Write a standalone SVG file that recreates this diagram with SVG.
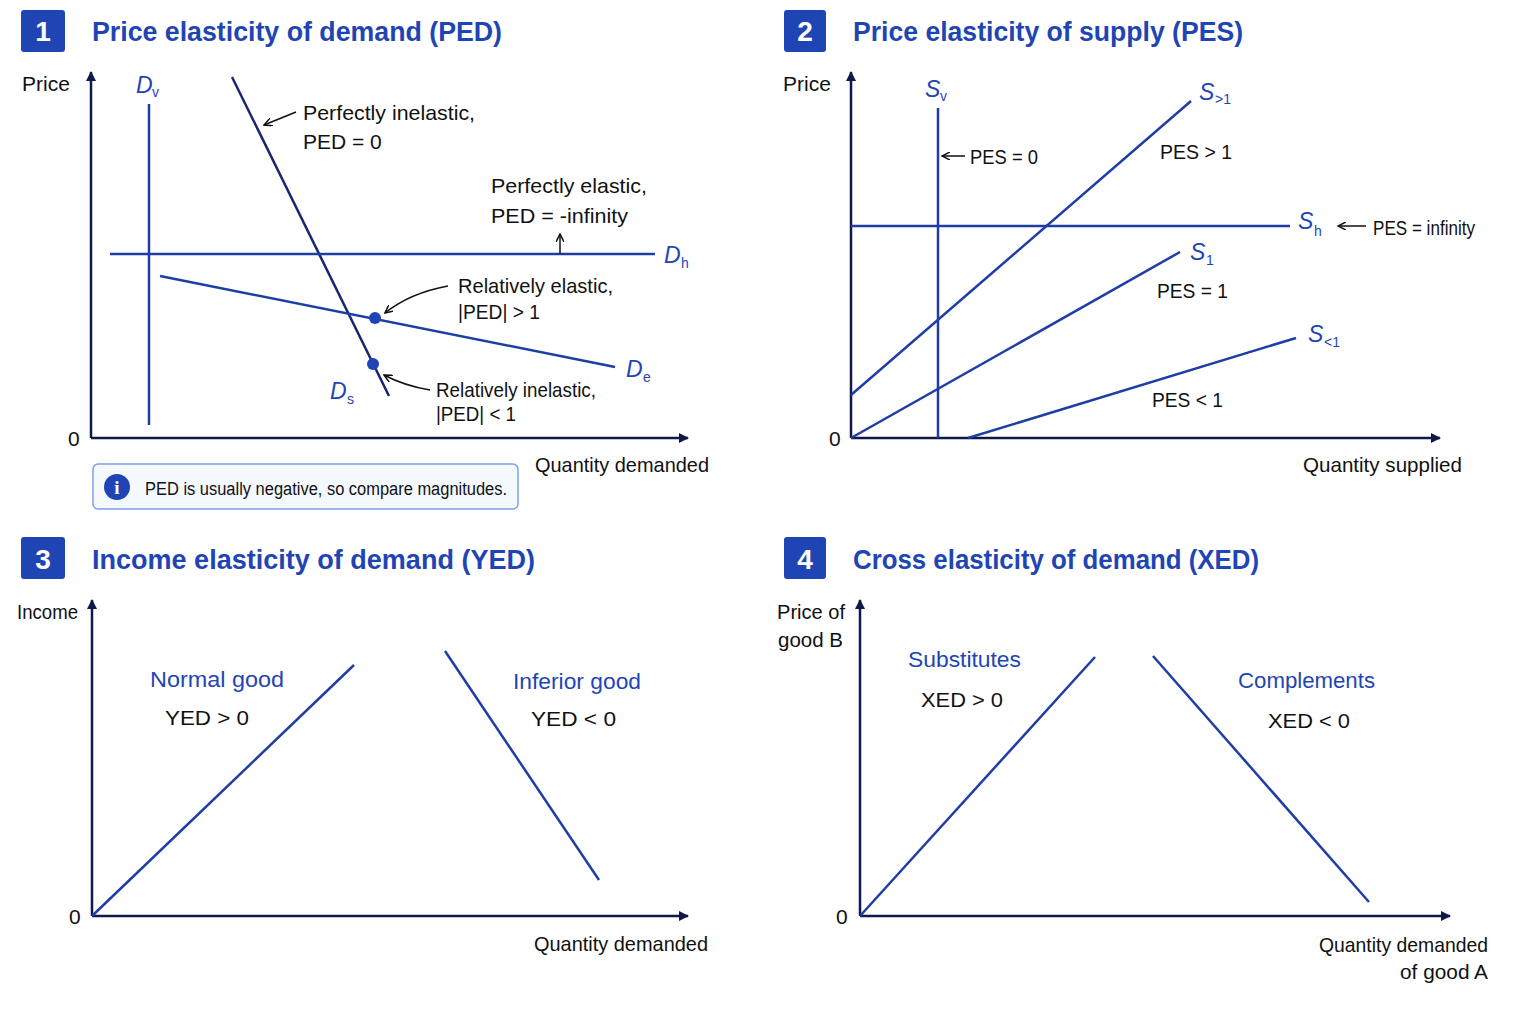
<svg xmlns="http://www.w3.org/2000/svg" width="1536" height="1024" viewBox="0 0 1536 1024">
<style>
text{font-family:"Liberation Sans",Arial,sans-serif}
.t{font-size:27px;font-weight:bold;fill:#1f45b5}
.num{font-size:28px;font-weight:bold;fill:#fff}
.lb{font-size:21px;fill:#111}
.bl{font-size:22px;fill:#1f45b5}
.it{font-size:23px;font-style:italic;fill:#1f45b5}
.sub{font-size:14px;fill:#1f45b5}
.ax{stroke:#0f1a4a;stroke-width:2.5;fill:none}
.ln{stroke:#1e3ea6;stroke-width:2.5;fill:none}
.dk{stroke:#1a2470;stroke-width:2.5;fill:none}
.an{stroke:#111;stroke-width:1.5;fill:none}
</style>
<defs>
<marker id="ah" markerWidth="10" markerHeight="10" refX="9" refY="5" orient="auto" markerUnits="userSpaceOnUse"><path d="M0,0 L10,5 L0,10 Z" fill="#0f1a4a"/></marker>
<marker id="sa" markerWidth="9" markerHeight="8" refX="8" refY="4" orient="auto" markerUnits="userSpaceOnUse"><path d="M0,0 L8,4 L0,8" fill="none" stroke="#111" stroke-width="1.5"/></marker>
</defs>
<rect width="1536" height="1024" fill="#fff"/>
<g id="title1"><rect x="21" y="10" width="44" height="42" rx="3" fill="#1f45b5"/><text class="num" x="43" y="41" text-anchor="middle">1</text><text class="t" x="92" y="41" textLength="410" lengthAdjust="spacingAndGlyphs">Price elasticity of demand (PED)</text></g>
<g id="title2"><rect x="784" y="10" width="42" height="42" rx="3" fill="#1f45b5"/><text class="num" x="805" y="41" text-anchor="middle">2</text><text class="t" x="853" y="41" textLength="390" lengthAdjust="spacingAndGlyphs">Price elasticity of supply (PES)</text></g>
<g id="title3"><rect x="21" y="537" width="44" height="42" rx="3" fill="#1f45b5"/><text class="num" x="43" y="569" text-anchor="middle">3</text><text class="t" x="92" y="569" textLength="443" lengthAdjust="spacingAndGlyphs">Income elasticity of demand (YED)</text></g>
<g id="title4"><rect x="784" y="537" width="42" height="42" rx="3" fill="#1f45b5"/><text class="num" x="805" y="569" text-anchor="middle">4</text><text class="t" x="853" y="569" textLength="406" lengthAdjust="spacingAndGlyphs">Cross elasticity of demand (XED)</text></g>

<g id="connectors">
<path class="ax" d="M91,438 V72" marker-end="url(#ah)"/><path class="ax" d="M91,438 H688" marker-end="url(#ah)"/>
<path class="ln" d="M149,104 V425"/>
<path class="dk" d="M232,77 L389,396"/>
<path class="ln" d="M110,254 H655"/>
<path class="ln" d="M160,276 L615,367"/>
<path class="an" d="M296,112 L264,125" marker-end="url(#sa)"/>
<path class="an" d="M560,254 V234" marker-end="url(#sa)"/>
<path class="an" d="M448,286 Q410,293 385,313" marker-end="url(#sa)"/>
<path class="an" d="M430,390 Q405,386 384,375" marker-end="url(#sa)"/>

<path class="ax" d="M851,438 V72" marker-end="url(#ah)"/><path class="ax" d="M851,438 H1440" marker-end="url(#ah)"/>
<path class="ln" d="M938,108 V438"/>
<path class="ln" d="M851,395 L1191,101"/>
<path class="ln" d="M851,226 H1290"/>
<path class="ln" d="M851,438 L1180,252"/>
<path class="ln" d="M968,438 L1296,338"/>
<path class="an" d="M965,156 H942" marker-end="url(#sa)"/>
<path class="an" d="M1366,226 H1338" marker-end="url(#sa)"/>

<path class="ax" d="M92,916 V600" marker-end="url(#ah)"/><path class="ax" d="M92,916 H688" marker-end="url(#ah)"/>
<path class="ln" d="M92,916 L354,665"/>
<path class="ln" d="M445,651 L599,880"/>

<path class="ax" d="M860,916 V600" marker-end="url(#ah)"/><path class="ax" d="M860,916 H1450" marker-end="url(#ah)"/>
<path class="ln" d="M860,916 L1095,657"/>
<path class="ln" d="M1153,656 L1369,902"/>
</g>

<g id="panel1-labels">
<text class="lb" x="22" y="91">Price</text><text class="lb" x="68" y="446">0</text>
<text class="it" x="136" y="93">D</text><text class="sub" x="152" y="97">v</text>
<text class="lb" x="303" y="120" textLength="172" lengthAdjust="spacingAndGlyphs">Perfectly inelastic,</text><text class="lb" x="303" y="149">PED = 0</text>
<text class="lb" x="491" y="193" textLength="156" lengthAdjust="spacingAndGlyphs">Perfectly elastic,</text><text class="lb" x="491" y="223" textLength="137" lengthAdjust="spacingAndGlyphs">PED = -infinity</text>
<text class="it" x="664" y="263">D</text><text class="sub" x="681" y="268">h</text>
<text class="lb" x="458" y="293" textLength="155" lengthAdjust="spacingAndGlyphs">Relatively elastic,</text><text class="lb" x="458" y="319" textLength="82" lengthAdjust="spacingAndGlyphs">|PED| &gt; 1</text>
<text class="lb" x="436" y="397" textLength="160" lengthAdjust="spacingAndGlyphs">Relatively inelastic,</text><text class="lb" x="436" y="421" textLength="80" lengthAdjust="spacingAndGlyphs">|PED| &lt; 1</text>
<text class="it" x="626" y="377">D</text><text class="sub" x="643" y="382">e</text>
<text class="it" x="330" y="399">D</text><text class="sub" x="347" y="404">s</text>
<circle cx="375" cy="318" r="6" fill="#1f45b5"/><circle cx="373" cy="364" r="6" fill="#1f45b5"/>
<text class="lb" x="535" y="472" textLength="174" lengthAdjust="spacingAndGlyphs">Quantity demanded</text>
</g>
<g id="note"><rect x="93" y="464" width="425" height="45" rx="5" fill="#f4f8ff" stroke="#7ea0e8" stroke-width="1.5"/><circle cx="117" cy="487" r="13" fill="#1f45b5"/><text x="117" y="494" font-size="19" font-weight="bold" fill="#fff" text-anchor="middle" style="font-family:'Liberation Serif',serif">i</text><text x="145" y="495" font-size="18" fill="#111" textLength="362" lengthAdjust="spacingAndGlyphs">PED is usually negative, so compare magnitudes.</text></g>

<g id="panel2-labels">
<text class="lb" x="783" y="91">Price</text><text class="lb" x="829" y="446">0</text>
<text class="it" x="925" y="97">S</text><text class="sub" x="940" y="101">v</text>
<text class="lb" x="970" y="164" textLength="68" lengthAdjust="spacingAndGlyphs">PES = 0</text>
<text class="it" x="1199" y="100">S</text><text class="sub" x="1215" y="104">&gt;1</text>
<text class="lb" x="1160" y="159" textLength="72" lengthAdjust="spacingAndGlyphs">PES &gt; 1</text>
<text class="it" x="1298" y="229">S</text><text class="sub" x="1314" y="236">h</text>
<text class="lb" x="1373" y="235" font-size="19" textLength="102" lengthAdjust="spacingAndGlyphs">PES = infinity</text>
<text class="it" x="1190" y="260">S</text><text class="sub" x="1206" y="265">1</text>
<text class="lb" x="1157" y="298" textLength="71" lengthAdjust="spacingAndGlyphs">PES = 1</text>
<text class="it" x="1308" y="342">S</text><text class="sub" x="1324" y="347">&lt;1</text>
<text class="lb" x="1152" y="407" textLength="71" lengthAdjust="spacingAndGlyphs">PES &lt; 1</text>
<text class="lb" x="1303" y="472" textLength="159" lengthAdjust="spacingAndGlyphs">Quantity supplied</text>
</g>
<g id="panel3-labels">
<text class="lb" x="17" y="619" font-size="19" textLength="61" lengthAdjust="spacingAndGlyphs">Income</text><text class="lb" x="69" y="924">0</text>
<text class="bl" x="150" y="687" textLength="134" lengthAdjust="spacingAndGlyphs">Normal good</text><text class="lb" x="165" y="725" textLength="84" lengthAdjust="spacingAndGlyphs">YED &gt; 0</text>
<text class="bl" x="513" y="689" textLength="128" lengthAdjust="spacingAndGlyphs">Inferior good</text><text class="lb" x="531" y="726" textLength="85" lengthAdjust="spacingAndGlyphs">YED &lt; 0</text>
<text class="lb" x="534" y="951" textLength="174" lengthAdjust="spacingAndGlyphs">Quantity demanded</text>
</g>
<g id="panel4-labels">
<text class="lb" x="777" y="619" textLength="68" lengthAdjust="spacingAndGlyphs">Price of</text><text class="lb" x="778" y="647" textLength="65" lengthAdjust="spacingAndGlyphs">good B</text><text class="lb" x="836" y="924">0</text>
<text class="bl" x="908" y="667" textLength="113" lengthAdjust="spacingAndGlyphs">Substitutes</text><text class="lb" x="921" y="707" textLength="82" lengthAdjust="spacingAndGlyphs">XED &gt; 0</text>
<text class="bl" x="1238" y="688" textLength="137" lengthAdjust="spacingAndGlyphs">Complements</text><text class="lb" x="1268" y="728" textLength="82" lengthAdjust="spacingAndGlyphs">XED &lt; 0</text>
<text class="lb" x="1319" y="952" textLength="169" lengthAdjust="spacingAndGlyphs">Quantity demanded</text><text class="lb" x="1400" y="979" textLength="88" lengthAdjust="spacingAndGlyphs">of good A</text>
</g>
</svg>
